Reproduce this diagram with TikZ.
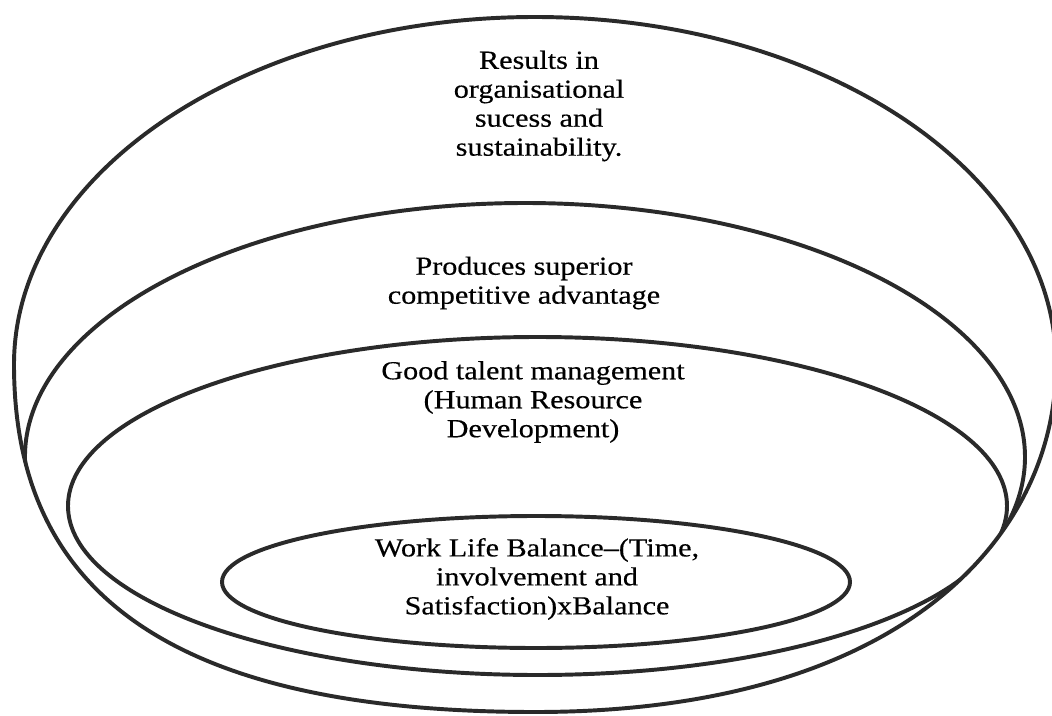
\documentclass[tikz,border=0pt]{standalone}
\usepackage{fontspec}
\setmainfont{Liberation Serif}[FakeStretch=1.16, FakeBold=0.4]
\definecolor{ink}{HTML}{2A2A2A}

% outer ring: elliptic top, fuller bottom
\newcommand*{\outerring}{(14,364.5) arc[start angle=180, end angle=360, x radius=521, y radius=347.5]
  .. controls (1056,538) and (900,712) .. (535,712)
  .. controls (144,712) and (14,573) .. cycle}

\begin{document}
\begin{tikzpicture}[x=0.025cm, y=-0.025cm,
    ring/.style={draw=ink, line width=2.8pt},
    txt/.style={align=center, inner sep=0pt, text=black, font=\fontsize{18.5}{20.6}\selectfont}]
  \useasboundingbox (0,0) rectangle (1052,716);
  \draw[ring] \outerring;
  % middle rings run into the outer one at the sides
  \begin{scope}
    \clip \outerring;
    \draw[ring] (525,457) ++(176:500 and 254) arc[start angle=176, end angle=380, x radius=500, y radius=254];
    \draw[ring] (537.5,506) ellipse [x radius=469.5, y radius=169];
  \end{scope}
  % inner ring
  \draw[ring] (536,582) ellipse [x radius=314, y radius=66];

  \node[txt] (results) at (539,106) {Results in\\organisational\\sucess and\\sustainability.};
  \node[txt] (produces) at (524,283) {Produces superior\\competitive advantage};
  \node[txt] (talent) at (533,402) {Good talent management\\(Human Resource\\Development)};
  \node[txt] (wlb) at (537,579) {Work Life Balance–(Time,\\involvement and\\Satisfaction)xBalance};
\end{tikzpicture}
\end{document}
